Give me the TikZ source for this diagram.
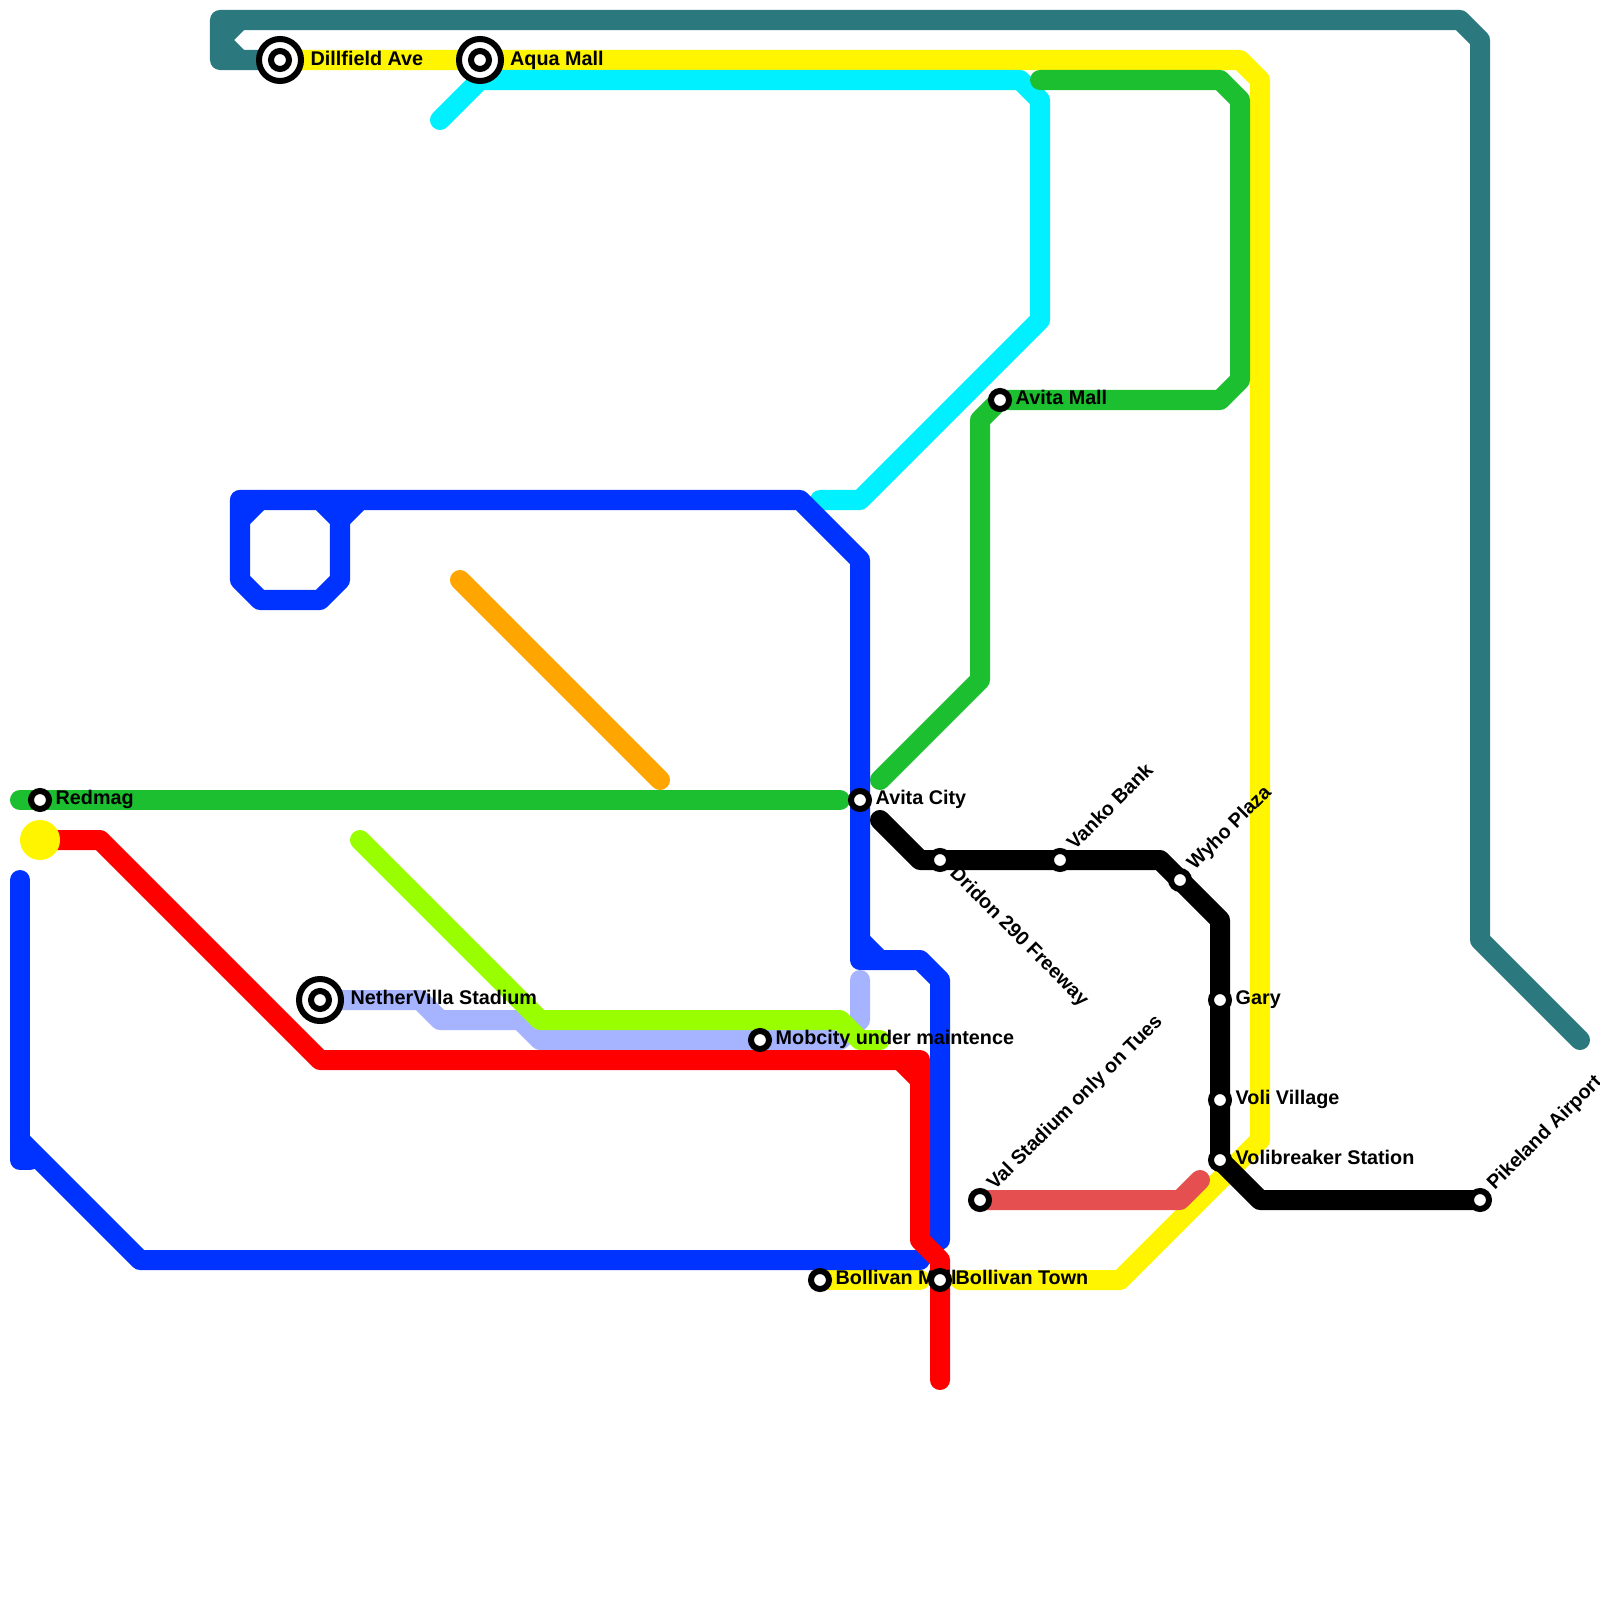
\documentclass[tikz,border=0pt]{standalone}
\usepackage{fontspec}
\setmainfont{Liberation Sans}
\usetikzlibrary{positioning}
\pgfdeclarelayer{lines}
\pgfsetlayers{lines,main}
\definecolor{teal1}{HTML}{2C787F}
\definecolor{yellow1}{HTML}{FFF500}
\definecolor{cyan1}{HTML}{00F0FF}
\definecolor{green1}{HTML}{1CBF30}
\definecolor{blue1}{HTML}{0033FF}
\definecolor{red1}{HTML}{FF0000}
\definecolor{orange1}{HTML}{FFA500}
\definecolor{lime1}{HTML}{99FF00}
\definecolor{peri1}{HTML}{A6B3FF}
\definecolor{salmon1}{HTML}{E64F4F}
\begin{document}
\begin{tikzpicture}[x=0.01cm,y=-0.01cm,node distance=0.03cm,
route/.style={line width=0.2cm,line cap=round,line join=round},
stn/.style={circle,draw=black,fill=white,line width=0.06cm,minimum size=0.18cm,inner sep=0pt},
xfer/.style={circle,draw=black,fill=white,line width=0.06cm,minimum size=0.42cm,inner sep=0pt},
lbl/.style={inner sep=0pt,text height=0.14cm,text depth=0.06cm,font=\fontsize{5.62}{6.8}\selectfont\bfseries}]
\useasboundingbox (0,0) rectangle (1600,1600);
\node[xfer] (dillfield) at (280,60) {};
\node[stn] (dillfieldin) at (dillfield) {};
\node[lbl,right=0.06cm of dillfield,yshift=-0.015cm] (dillfieldlbl) {Dillfield Ave};
\node[xfer] (aqua) at (480,60) {};
\node[stn] (aquain) at (aqua) {};
\node[lbl,right=0.055cm of aqua,yshift=-0.015cm] (aqualbl) {Aqua Mall};
\node[xfer] (nether) at (320,1000) {};
\node[stn] (netherin) at (nether) {};
\node[lbl,right=0.06cm of nether] (netherlbl) {NetherVilla Stadium};
\node[stn] (redmag) at (40,800) {};
\node[lbl,right=of redmag] (redmaglbl) {Redmag};
\node[circle,fill=yellow1,minimum size=0.4cm,inner sep=0pt] (dot) at (40,840) {};
\node[stn] (mobcity) at (760,1040) {};
\node[lbl,right=of mobcity] (mobcitylbl) {Mobcity under maintence};
\node[stn] (avitacity) at (860,800) {};
\node[lbl,right=of avitacity] (avitacitylbl) {Avita City};
\node[stn] (avitamall) at (1000,400) {};
\node[lbl,right=of avitamall] (avitamalllbl) {Avita Mall};
\node[stn] (dridon) at (940,860) {};
\node[lbl,rotate=-45,below right=0.03cm and 0.03cm of dridon,anchor=west] (dridonlbl) {Dridon 290 Freeway};
\node[stn] (vanko) at (1060,860) {};
\node[lbl,rotate=45,above right=0.03cm and 0.03cm of vanko,anchor=west] (vankolbl) {Vanko Bank};
\node[stn] (wyho) at (1180,880) {};
\node[lbl,rotate=45,above right=0.03cm and 0.03cm of wyho,anchor=west] (wyholbl) {Wyho Plaza};
\node[stn] (gary) at (1220,1000) {};
\node[lbl,right=of gary] (garylbl) {Gary};
\node[stn] (voli) at (1220,1100) {};
\node[lbl,right=of voli] (volilbl) {Voli Village};
\node[stn] (volibreaker) at (1220,1160) {};
\node[lbl,right=of volibreaker] (volibreakerlbl) {Volibreaker Station};
\node[stn] (val) at (980,1200) {};
\node[lbl,rotate=45,above right=0.03cm and 0.03cm of val,anchor=west] (vallbl) {Val Stadium only on Tues};
\node[stn] (pikeland) at (1480,1200) {};
\node[lbl,rotate=45,above right=0.03cm and 0.03cm of pikeland,anchor=west] (pikelandlbl) {Pikeland Airport};
\node[stn] (bollivanmall) at (820,1280) {};
\node[lbl,right=of bollivanmall] (bollivanmalllbl) {Bollivan Mall};
\node[stn] (bollivantown) at (940,1280) {};
\node[lbl,right=of bollivantown] (bollivantownlbl) {Bollivan Town};
\begin{pgfonlayer}{lines}
\draw[route,teal1] (dillfield.center)--(220,60)--(220,20)--(1460,20)--(1480,40)--(1480,940)--(1580,1040);
\draw[route,teal1] (240,20)--(220,40)--(240,60);
\draw[route,yellow1] (dillfield.center)--(aqua.center)--(1240,60)--(1260,80)--(1260,1140)--(1120,1280)--(960,1280);
\draw[route,yellow1] (bollivanmall.center)--(920,1280);
\draw[route,cyan1] (440,120)--(480,80)--(1020,80)--(1040,100)--(1040,320)--(860,500)--(820,500);
\draw[route,green1] (1040,80)--(1220,80)--(1240,100)--(1240,380)--(1220,400)--(avitamall.center)--(980,420)--(980,680)--(880,780);
\draw[route,green1] (20,800)--(840,800);
\draw[route,blue1] (240,500)--(800,500)--(860,560)--(avitacity.center)--(860,960)--(920,960)--(940,980)--(940,1240);
\draw[route,blue1] (860,940)--(880,960);
\draw[route,blue1] (240,500)--(240,580)--(260,600)--(320,600)--(340,580)--(340,520)--(320,500);
\draw[route,blue1] (340,520)--(360,500);
\draw[route,blue1] (240,520)--(260,500);
\draw[route,blue1] (20,880)--(20,1160)--(30,1160);
\draw[route,blue1] (20,1140)--(140,1260)--(920,1260);
\draw[route,orange1] (460,580)--(660,780);
\draw[route,peri1] (nether.center)--(420,1000)--(440,1020)--(520,1020)--(540,1040)--(840,1040)--(860,1020)--(860,980);
\draw[route,lime1] (360,840)--(540,1020)--(840,1020)--(860,1040)--(880,1040);
\draw[route,red1] (dot.center)--(100,840)--(320,1060)--(920,1060)--(920,1240)--(940,1260)--(940,1380);
\draw[route,red1] (900,1060)--(920,1080);
\draw[route,salmon1] (val.center)--(1180,1200)--(1200,1180);
\draw[route,black] (880,820)--(920,860)--(dridon.center)--(vanko.center)--(1160,860)--(1220,920)--(gary.center)--(voli.center)--(volibreaker.center)--(1260,1200)--(pikeland.center);
\end{pgfonlayer}
\end{tikzpicture}
\end{document}
